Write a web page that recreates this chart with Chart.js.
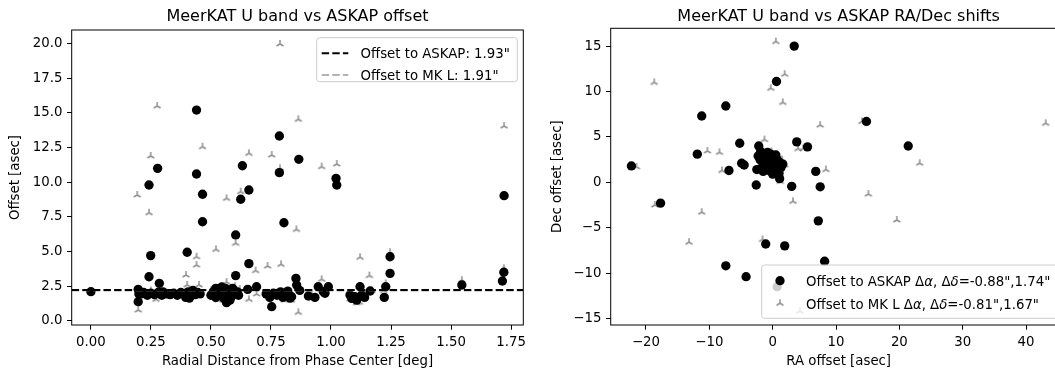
<!DOCTYPE html>
<html><head><meta charset="utf-8">
<script src="https://cdn.jsdelivr.net/npm/chart.js@4.4.0/dist/chart.umd.min.js"></script>
<style>
html,body{margin:0;padding:0;background:#fff;overflow:hidden;width:1055px;height:370px;}
#wrap{position:relative;width:1055px;height:370px;overflow:hidden;background:#fff;}
#c1{position:absolute;left:0;top:0;}
#c2{position:absolute;left:530px;top:0;}
</style></head><body>
<div id="wrap"><canvas id="c1" width="530" height="370"></canvas><canvas id="c2" width="545" height="370"></canvas></div>
<script>
// ---------------- data ----------------
const leftTitle = 'MeerKAT U band vs ASKAP offset';
const rightTitle = 'MeerKAT U band vs ASKAP RA/Dec shifts';
const leftXTitle = 'Radial Distance from Phase Center [deg]';
const leftYTitle = 'Offset [asec]';
const rightXTitle = 'RA offset [asec]';
const rightYTitle = 'Dec offset [asec]';

const leftXTicks = [0, 0.25, 0.5, 0.75, 1.0, 1.25, 1.5, 1.75];
const leftXLabels = ['0.00','0.25','0.50','0.75','1.00','1.25','1.50','1.75'];
const leftYTicks = [0, 2.5, 5, 7.5, 10, 12.5, 15, 17.5, 20];
const leftYLabels = ['0.0','2.5','5.0','7.5','10.0','12.5','15.0','17.5','20.0'];
const rightXTicks = [-20, -10, 0, 10, 20, 30, 40];
const rightXLabels = ['\u221220','\u221210','0','10','20','30','40'];
const rightYTicks = [-15, -10, -5, 0, 5, 10, 15];
const rightYLabels = ['\u221215','\u221210','\u22125','0','5','10','15'];

const leftXRange = [-0.080, 1.801];
const leftYRange = [-0.29, 20.97];
const rightXRange = [-25.57, 46.4];
const rightYRange = [-15.72, 16.96];

// horizontal reference levels (asec)
const askapLevel = 2.23;
const mklLevel = 2.20;
const legendLeft = ['Offset to ASKAP: 1.93"', 'Offset to MK L: 1.91"'];
const legendRightPrefix = ['Offset to ASKAP ', 'Offset to MK L '];
const legendRightSuffix = ['=-0.88",1.74"', '=-0.81",1.67"'];

// radial distance [deg], offset to ASKAP [asec]
const leftAskap = [
 [0.000,2.11],[0.197,2.28],[0.197,1.39],[0.200,1.95],
 [0.242,3.19],[0.242,9.80],[0.249,4.71],[0.278,11.00],[0.285,2.71],
 [0.401,4.95],[0.440,15.20],[0.440,10.59],[0.465,9.13],[0.465,7.15],
 [0.565,1.32],[0.579,1.50],[0.603,6.20],[0.603,3.27],[0.624,8.77],[0.631,11.19],[0.658,9.44],[0.658,4.13],[0.653,2.28],[0.690,2.47],
 [0.753,1.03],[0.785,13.33],[0.785,10.69],[0.804,7.08],[0.836,1.75],[0.854,3.07],[0.857,2.59],[0.866,11.65],[0.870,2.20],
 [0.906,1.80],[0.933,1.70],[0.947,2.47],[0.968,2.11],[0.989,2.47],[0.975,2.00],
 [1.021,10.28],[1.024,9.80],[1.079,1.87],[1.086,1.63],[1.100,1.75],[1.107,1.50],[1.121,2.47],[1.128,1.87],[1.140,1.70],[1.163,2.16],
 [1.222,1.70],[1.228,2.47],[1.246,4.63],[1.246,3.43],[1.545,2.59],[1.714,2.88],[1.720,3.51],[1.721,9.03],
 [0.210,1.95],[0.220,2.05],[0.235,1.85],[0.250,2.00],[0.265,1.90],[0.280,2.05],[0.295,1.85],[0.300,2.10],[0.315,1.95],[0.330,1.90],[0.345,2.00],[0.360,1.85],[0.375,2.05],[0.385,1.95],[0.395,1.70],[0.405,2.10],[0.415,1.80],[0.425,2.20],[0.435,1.90],[0.445,2.05],[0.455,1.95],[0.410,1.65],
 [0.500,1.85],[0.510,2.10],[0.520,1.70],[0.530,2.30],[0.540,1.95],[0.545,2.45],[0.550,2.20],[0.555,1.60],[0.560,2.35],[0.570,1.90],[0.575,2.15],[0.585,1.75],[0.590,2.35],[0.600,1.95],[0.610,2.10],[0.615,1.85],[0.520,2.35],
 [0.730,1.95],[0.745,1.70],[0.760,2.00],[0.775,1.85],[0.790,2.10],[0.800,1.70],[0.810,1.95],[0.820,2.15],[0.830,1.65]
];
// radial distance [deg], offset to MeerKAT L band [asec]
const leftMkl = [
 [0.7875,19.97],[0.276,15.49],[0.249,11.89],[0.193,9.08],[0.242,7.80],[0.465,12.56],[0.658,12.08],[0.753,11.96],[0.7875,11.00],[0.864,14.53],
 [0.565,8.84],[0.624,9.32],[0.856,6.60],[0.521,5.16],[0.603,5.60],[0.440,4.63],[0.440,4.03],[0.396,3.31],[0.401,2.60],[0.686,3.63],
 [0.736,3.96],[0.792,4.08],[0.197,0.79],[0.271,1.56],[0.658,1.56],[0.864,0.62],[0.565,2.80],[0.690,1.95],[0.806,1.50],[0.834,1.50],
 [0.530,1.50],[0.961,11.12],[1.024,11.31],[1.121,4.59],[1.160,3.27],[0.961,3.00],[1.246,4.95],[1.228,2.70],[1.545,2.94],[1.721,14.05],
 [1.720,3.80],[1.107,1.30],[1.118,1.35],
 [0.210,2.10],[0.250,2.20],[0.300,2.00],[0.350,1.90],[0.400,2.00],[0.450,2.60],[0.500,2.20],[0.550,1.80],[0.580,2.00],[0.600,2.50],
 [0.620,2.30],[0.760,1.80],[0.820,1.80],[0.920,1.90],[0.980,2.30],[1.080,1.60],[1.130,1.70],[1.170,2.20],[1.220,2.20]
];
// RA offset, Dec offset [asec] vs ASKAP
const rightAskap = [
 [3.4,15.0],[0.6,11.1],[-7.4,8.4],[-11.2,7.3],[-5.2,4.3],[-2.2,4.0],[3.8,4.45],[5.5,3.9],[-11.9,3.1],[-22.3,1.8],
 [-4.9,2.1],[-4.5,1.9],[-6.9,1.3],[-2.6,-0.3],[1.1,0.4],[3.0,-0.45],[6.8,1.2],[7.5,-0.5],[-17.7,-2.3],[7.2,-4.25],
 [-1.1,-6.8],[1.9,-7.0],[-7.4,-9.2],[-4.2,-10.4],[8.2,-8.7],[14.8,6.7],[21.4,4.0],[0.7,-11.5],
 [-2.3,2.9],[-2.0,2.5],[-1.8,1.5],[-1.6,2.2],[-1.4,2.8],[-1.2,1.9],[-1.0,2.4],[-0.9,1.6],[-0.8,2.1],[-0.7,2.9],
 [-0.6,1.3],[-0.5,2.0],[-0.4,2.5],[-0.3,1.7],[-0.2,2.2],[-0.1,1.1],[0.0,2.7],[0.1,1.9],[0.2,1.4],[0.3,2.3],
 [0.4,1.8],[0.5,2.1],[0.6,1.5],[0.7,2.5],[0.9,1.9],[1.1,2.2],[1.3,1.6],[-1.5,1.2],[-0.3,3.1],[0.5,3.0],
 [1.6,2.0],[-2.5,1.4],[0.0,0.9],[-0.8,3.3],[1.0,1.0],[-1.9,3.4]
];
// RA offset, Dec offset [asec] vs MeerKAT L band
const rightMkl = [
 [0.5,15.5],[1.9,11.9],[-0.3,10.35],[1.6,8.8],[-18.7,11.0],[7.5,6.3],[14.1,6.7],[43.1,6.5],[-1.3,4.7],[-10.3,3.45],
 [-8.4,3.3],[-8.0,1.3],[4.0,3.7],[4.8,3.7],[-21.5,1.7],[-18.6,-2.5],[-11.2,-3.3],[-13.2,-6.6],[3.2,-2.1],[-1.6,-6.3],
 [4.3,-14.2],[8.4,1.4],[23.2,2.1],[15.1,-1.3],[19.6,-4.15],[1.9,1.9],[-0.2,3.4],[1.2,0.1],
 [-0.5,2.3],[0.3,2.6],[-1.0,1.8],[0.8,1.2],[-0.2,1.5],[-1.8,2.2],[1.5,2.5],[0.2,3.0],[-0.9,2.7],[0.6,1.9]
];

// ---------------- styling helpers ----------------
const FONT = 'DejaVu Sans';
const FS = 13.3;
const toXY = arr => arr.map(p => ({x: p[0], y: p[1]}));

function triMarker(color, r, lw) {
  const c = document.createElement('canvas');
  c.width = 12; c.height = 12;
  const g = c.getContext('2d');
  g.strokeStyle = color; g.lineWidth = lw;
  const cx = 6, cy = 6;
  g.beginPath();
  g.moveTo(cx, cy); g.lineTo(cx, cy - r);
  g.moveTo(cx, cy); g.lineTo(cx - r * 0.866, cy + r * 0.5);
  g.moveTo(cx, cy); g.lineTo(cx + r * 0.866, cy + r * 0.5);
  g.stroke();
  return c;
}
const TRI = triMarker('rgba(115,115,115,0.8)', 4, 1.5);
const GRAY_LINE = 'rgba(128,128,128,0.6)';

function roundRect(ctx, x, y, w, h, r) {
  ctx.beginPath();
  ctx.moveTo(x + r, y);
  ctx.lineTo(x + w - r, y); ctx.quadraticCurveTo(x + w, y, x + w, y + r);
  ctx.lineTo(x + w, y + h - r); ctx.quadraticCurveTo(x + w, y + h, x + w - r, y + h);
  ctx.lineTo(x + r, y + h); ctx.quadraticCurveTo(x, y + h, x, y + h - r);
  ctx.lineTo(x, y + r); ctx.quadraticCurveTo(x, y, x + r, y);
  ctx.closePath();
}
function legendBox(ctx, x, y, w, h) {
  roundRect(ctx, x, y, w, h, 2.7);
  ctx.fillStyle = 'rgba(255,255,255,0.8)'; ctx.fill();
  ctx.strokeStyle = '#cccccc'; ctx.lineWidth = 1; ctx.stroke();
}

const centerTitle = {
  id: 'centerTitle',
  afterLayout(chart) {
    const t = chart.titleBlock;
    if (t) { t.left = chart.chartArea.left; t.right = chart.chartArea.right; t.width = t.right - t.left; }
  }
};
const frame = {
  id: 'frame',
  afterDatasetsDraw(chart) {
    const {ctx, chartArea: a} = chart;
    ctx.save();
    ctx.strokeStyle = '#000'; ctx.lineWidth = 1;
    ctx.strokeRect(a.left, a.top, a.right - a.left, a.bottom - a.top);
    ctx.restore();
  }
};

function scales(o) {
  const tickFont = {family: FONT, size: FS};
  return {
    x: {
      type: 'linear', position: 'bottom', min: o.xr[0], max: o.xr[1],
      afterBuildTicks: s => { s.ticks = o.xt.map(v => ({value: v})); },
      afterFit: s => { s.height = o.xh; s.paddingLeft = 0; s.paddingRight = 0; },
      ticks: {autoSkip: false, maxRotation: 0, minRotation: 0, padding: 5, color: '#000', font: tickFont,
              callback: (v, i) => o.xl[i]},
      grid: {display: true, drawOnChartArea: false, drawTicks: true, tickLength: 4.7, tickWidth: 1, tickColor: '#000'},
      border: {display: false},
      title: {display: true, text: o.xtitle, color: '#000', font: {family: FONT, size: FS, lineHeight: 1.2}, padding: {top: 0, bottom: 0}}
    },
    y: {
      type: 'linear', position: 'left', min: o.yr[0], max: o.yr[1],
      afterBuildTicks: s => { s.ticks = o.yt.map(v => ({value: v})); },
      afterFit: s => { s.width = o.yw; s.paddingTop = 0; s.paddingBottom = 0; },
      ticks: {autoSkip: false, padding: 4.6, color: '#000', font: tickFont, callback: (v, i) => o.yl[i]},
      grid: {display: true, drawOnChartArea: false, drawTicks: true, tickLength: 4.7, tickWidth: 1, tickColor: '#000'},
      border: {display: false},
      title: {display: true, text: o.ytitle, color: '#000', font: {family: FONT, size: FS, lineHeight: 1.2}, padding: {top: o.ytp, bottom: 0}}
    }
  };
}
function titleOpts(text, pt, pb) {
  return {display: true, text: text, color: '#000', font: {family: FONT, size: 16, weight: 'normal', lineHeight: 1.2}, padding: {top: pt, bottom: pb}};
}

// ---------------- left chart ----------------
const leftLegend = {
  id: 'leftLegend',
  afterDraw(chart) {
    const ctx = chart.ctx;
    ctx.save();
    legendBox(ctx, 316.7, 37.7, 200.6, 44);
    const rows = [{y: 53.3, c: '#000', t: legendLeft[0], b: 58.3}, {y: 75.0, c: GRAY_LINE, t: legendLeft[1], b: 80.0}];
    rows.forEach(r => {
      ctx.beginPath(); ctx.setLineDash([7.4, 3.2]); ctx.lineWidth = 2; ctx.strokeStyle = r.c;
      ctx.moveTo(321.7, r.y); ctx.lineTo(348.3, r.y); ctx.stroke();
      ctx.setLineDash([]);
      ctx.fillStyle = '#000'; ctx.font = FS + 'px "' + FONT + '"'; ctx.textBaseline = 'alphabetic'; ctx.textAlign = 'left';
      ctx.fillText(r.t, 360.5, r.b);
    });
    ctx.restore();
  }
};

new Chart(document.getElementById('c1'), {
  type: 'scatter',
  data: {
    datasets: [
      {label: 'askapLevel', data: [{x: leftXRange[0], y: askapLevel}, {x: leftXRange[1], y: askapLevel}], showLine: true,
       borderColor: '#000', borderWidth: 2, borderDash: [7.4, 3.2], pointRadius: 0, order: 0},
      {label: 'mklLevel', data: [{x: leftXRange[0], y: mklLevel}, {x: leftXRange[1], y: mklLevel}], showLine: true,
       borderColor: GRAY_LINE, borderWidth: 2, borderDash: [7.4, 3.2], pointRadius: 0, order: 1},
      {label: 'ASKAP', data: toXY(leftAskap), pointStyle: 'circle', pointRadius: 4.67, backgroundColor: '#000', borderWidth: 0, order: 2},
      {label: 'MK L', data: toXY(leftMkl), pointStyle: TRI, pointRadius: 4, order: 3}
    ]
  },
  options: {
    responsive: false, animation: false, events: [],
    layout: {padding: {left: 0, right: 6.7, top: 0, bottom: 0}, autoPadding: false},
    plugins: {legend: {display: false}, tooltip: {enabled: false}, title: titleOpts(leftTitle, 7.6, 3.2)},
    scales: scales({xr: leftXRange, yr: leftYRange, xt: leftXTicks, xl: leftXLabels, yt: leftYTicks, yl: leftYLabels,
                    xh: 45, yw: 71.7, xtitle: leftXTitle, ytitle: leftYTitle, ytp: 7.7})
  },
  plugins: [centerTitle, frame, leftLegend]
});

// ---------------- right chart ----------------
function drawSegs(ctx, x, y, segs) {
  segs.forEach(s => {
    ctx.font = (s.it ? 'oblique ' : '') + FS + 'px "' + FONT + '"';
    ctx.fillText(s.t, x, y);
    x += ctx.measureText(s.t).width;
  });
}
const rightLegend = {
  id: 'rightLegend',
  afterDraw(chart) {
    const ctx = chart.ctx;
    const ox = 530; // canvas offset in page
    ctx.save();
    legendBox(ctx, 761.7 - ox, 265, 298.3, 53.3);
    // circle
    ctx.beginPath(); ctx.fillStyle = '#000'; ctx.arc(780 - ox, 280.7, 4.67, 0, Math.PI * 2); ctx.fill();
    ctx.drawImage(TRI, 780 - ox - 6, 303.3 - 6);
    ctx.fillStyle = '#000'; ctx.textBaseline = 'alphabetic'; ctx.textAlign = 'left';
    [286, 309.3].forEach((b, i) => {
      drawSegs(ctx, 806 - ox, b, [
        {t: legendRightPrefix[i]}, {t: '\u0394'}, {t: '\u03b1', it: true}, {t: ', '},
        {t: '\u0394'}, {t: '\u03b4', it: true}, {t: legendRightSuffix[i]}
      ]);
    });
    ctx.restore();
  }
};

new Chart(document.getElementById('c2'), {
  type: 'scatter',
  data: {
    datasets: [
      {label: 'ASKAP', data: toXY(rightAskap), pointStyle: 'circle', pointRadius: 4.67, backgroundColor: '#000', borderWidth: 0, order: 0},
      {label: 'MK L', data: toXY(rightMkl), pointStyle: TRI, pointRadius: 4, order: 1}
    ]
  },
  options: {
    responsive: false, animation: false, events: [],
    layout: {padding: {left: 0, right: 8.4, top: 0, bottom: 0}, autoPadding: false},
    plugins: {legend: {display: false}, tooltip: {enabled: false}, title: titleOpts(rightTitle, 7.6, 1.5)},
    scales: scales({xr: rightXRange, yr: rightYRange, xt: rightXTicks, xl: rightXLabels, yt: rightYTicks, yl: rightYLabels,
                    xh: 45, yw: 80.7, xtitle: rightXTitle, ytitle: rightYTitle, ytp: 19.3})
  },
  plugins: [centerTitle, frame, rightLegend]
});
</script>
</body></html>
